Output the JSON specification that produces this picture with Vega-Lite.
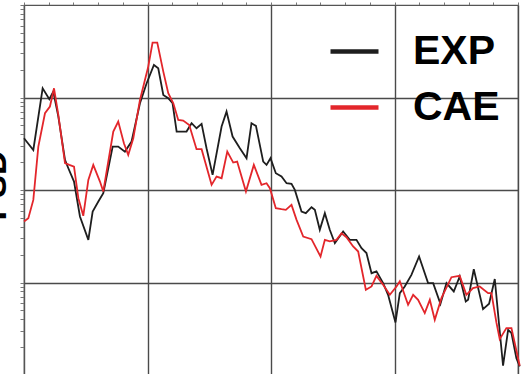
{
  "$schema": "https://vega.github.io/schema/vega-lite/v6.json",
  "width": 494,
  "height": 370,
  "autosize": {"type": "none"},
  "padding": {"left": 24, "top": 5, "right": 8, "bottom": 0},
  "background": "white",
  "config": {
    "view": {"stroke": "#555555", "strokeWidth": 1.2},
    "axis": {"labels": false, "domainColor": "#555555", "tickColor": "#777777", "gridColor": "#4a4a4a", "gridWidth": 1.4}
  },
  "data": {
    "values": [
      {"x": 0.000, "psd": 0.0363, "series": "EXP"},
      {"x": 0.0755, "psd": 0.0271, "series": "EXP"},
      {"x": 0.151, "psd": 0.1258, "series": "EXP"},
      {"x": 0.205, "psd": 0.0957, "series": "EXP"},
      {"x": 0.237, "psd": 0.1158, "series": "EXP"},
      {"x": 0.278, "psd": 0.0622, "series": "EXP"},
      {"x": 0.332, "psd": 0.02116, "series": "EXP"},
      {"x": 0.359, "psd": 0.0172, "series": "EXP"},
      {"x": 0.405, "psd": 0.01234, "series": "EXP"},
      {"x": 0.453, "psd": 0.00517, "series": "EXP"},
      {"x": 0.521, "psd": 0.00289, "series": "EXP"},
      {"x": 0.556, "psd": 0.00585, "series": "EXP"},
      {"x": 0.602, "psd": 0.0075, "series": "EXP"},
      {"x": 0.642, "psd": 0.00924, "series": "EXP"},
      {"x": 0.718, "psd": 0.0295, "series": "EXP"},
      {"x": 0.763, "psd": 0.0295, "series": "EXP"},
      {"x": 0.817, "psd": 0.026, "series": "EXP"},
      {"x": 0.871, "psd": 0.0334, "series": "EXP"},
      {"x": 0.939, "psd": 0.0866, "series": "EXP"},
      {"x": 0.993, "psd": 0.1425, "series": "EXP"},
      {"x": 1.052, "psd": 0.2248, "series": "EXP"},
      {"x": 1.087, "psd": 0.2069, "series": "EXP"},
      {"x": 1.128, "psd": 0.1066, "series": "EXP"},
      {"x": 1.168, "psd": 0.0981, "series": "EXP"},
      {"x": 1.203, "psd": 0.0866, "series": "EXP"},
      {"x": 1.236, "psd": 0.0428, "series": "EXP"},
      {"x": 1.316, "psd": 0.0428, "series": "EXP"},
      {"x": 1.357, "psd": 0.0527, "series": "EXP"},
      {"x": 1.397, "psd": 0.0465, "series": "EXP"},
      {"x": 1.438, "psd": 0.0518, "series": "EXP"},
      {"x": 1.478, "psd": 0.0283, "series": "EXP"},
      {"x": 1.527, "psd": 0.01457, "series": "EXP"},
      {"x": 1.600, "psd": 0.0485, "series": "EXP"},
      {"x": 1.640, "psd": 0.0704, "series": "EXP"},
      {"x": 1.689, "psd": 0.0378, "series": "EXP"},
      {"x": 1.748, "psd": 0.0283, "series": "EXP"},
      {"x": 1.802, "psd": 0.02206, "series": "EXP"},
      {"x": 1.842, "psd": 0.0527, "series": "EXP"},
      {"x": 1.878, "psd": 0.0493, "series": "EXP"},
      {"x": 1.937, "psd": 0.0203, "series": "EXP"},
      {"x": 1.964, "psd": 0.01868, "series": "EXP"},
      {"x": 1.996, "psd": 0.02206, "series": "EXP"},
      {"x": 2.039, "psd": 0.01519, "series": "EXP"},
      {"x": 2.085, "psd": 0.01398, "series": "EXP"},
      {"x": 2.126, "psd": 0.01184, "series": "EXP"},
      {"x": 2.166, "psd": 0.01165, "series": "EXP"},
      {"x": 2.193, "psd": 0.01003, "series": "EXP"},
      {"x": 2.247, "psd": 0.00585, "series": "EXP"},
      {"x": 2.282, "psd": 0.00562, "series": "EXP"},
      {"x": 2.328, "psd": 0.00652, "series": "EXP"},
      {"x": 2.355, "psd": 0.0061, "series": "EXP"},
      {"x": 2.395, "psd": 0.00371, "series": "EXP"},
      {"x": 2.436, "psd": 0.00562, "series": "EXP"},
      {"x": 2.476, "psd": 0.00371, "series": "EXP"},
      {"x": 2.517, "psd": 0.00266, "series": "EXP"},
      {"x": 2.584, "psd": 0.00356, "series": "EXP"},
      {"x": 2.638, "psd": 0.00289, "series": "EXP"},
      {"x": 2.692, "psd": 0.00289, "series": "EXP"},
      {"x": 2.733, "psd": 0.00235, "series": "EXP"},
      {"x": 2.773, "psd": 0.00208, "series": "EXP"},
      {"x": 2.814, "psd": 0.00126, "series": "EXP"},
      {"x": 2.854, "psd": 0.00132, "series": "EXP"},
      {"x": 2.908, "psd": 0.000985, "series": "EXP"},
      {"x": 2.948, "psd": 0.000736, "series": "EXP"},
      {"x": 3.008, "psd": 0.00037, "series": "EXP"},
      {"x": 3.043, "psd": 0.000768, "series": "EXP"},
      {"x": 3.083, "psd": 0.000906, "series": "EXP"},
      {"x": 3.137, "psd": 0.00121, "series": "EXP"},
      {"x": 3.199, "psd": 0.00191, "series": "EXP"},
      {"x": 3.272, "psd": 0.000985, "series": "EXP"},
      {"x": 3.313, "psd": 0.000985, "series": "EXP"},
      {"x": 3.372, "psd": 0.000589, "series": "EXP"},
      {"x": 3.421, "psd": 0.000985, "series": "EXP"},
      {"x": 3.480, "psd": 0.0008, "series": "EXP"},
      {"x": 3.528, "psd": 0.00116, "series": "EXP"},
      {"x": 3.577, "psd": 0.000624, "series": "EXP"},
      {"x": 3.596, "psd": 0.00065, "series": "EXP"},
      {"x": 3.642, "psd": 0.00139, "series": "EXP"},
      {"x": 3.717, "psd": 0.000516, "series": "EXP"},
      {"x": 3.766, "psd": 0.000589, "series": "EXP"},
      {"x": 3.812, "psd": 0.00109, "series": "EXP"},
      {"x": 3.847, "psd": 0.000349, "series": "EXP"},
      {"x": 3.879, "psd": 0.000126, "series": "EXP"},
      {"x": 3.920, "psd": 0.000308, "series": "EXP"},
      {"x": 3.947, "psd": 0.000284, "series": "EXP"},
      {"x": 3.987, "psd": 0.000152, "series": "EXP"},
      {"x": 4.014, "psd": 0.000124, "series": "EXP"},
      {"x": 0.000, "psd": 0.00456, "series": "CAE"},
      {"x": 0.035, "psd": 0.00496, "series": "CAE"},
      {"x": 0.0755, "psd": 0.00782, "series": "CAE"},
      {"x": 0.116, "psd": 0.0295, "series": "CAE"},
      {"x": 0.170, "psd": 0.0676, "series": "CAE"},
      {"x": 0.210, "psd": 0.0798, "series": "CAE"},
      {"x": 0.243, "psd": 0.1258, "series": "CAE"},
      {"x": 0.278, "psd": 0.0648, "series": "CAE"},
      {"x": 0.332, "psd": 0.01948, "series": "CAE"},
      {"x": 0.367, "psd": 0.01868, "series": "CAE"},
      {"x": 0.405, "psd": 0.01792, "series": "CAE"},
      {"x": 0.440, "psd": 0.00816, "series": "CAE"},
      {"x": 0.480, "psd": 0.00526, "series": "CAE"},
      {"x": 0.521, "psd": 0.01287, "series": "CAE"},
      {"x": 0.561, "psd": 0.01868, "series": "CAE"},
      {"x": 0.615, "psd": 0.01234, "series": "CAE"},
      {"x": 0.642, "psd": 0.00963, "series": "CAE"},
      {"x": 0.723, "psd": 0.0428, "series": "CAE"},
      {"x": 0.763, "psd": 0.0549, "series": "CAE"},
      {"x": 0.809, "psd": 0.032, "series": "CAE"},
      {"x": 0.844, "psd": 0.024, "series": "CAE"},
      {"x": 0.885, "psd": 0.0363, "series": "CAE"},
      {"x": 0.939, "psd": 0.0941, "series": "CAE"},
      {"x": 1.006, "psd": 0.2157, "series": "CAE"},
      {"x": 1.041, "psd": 0.392, "series": "CAE"},
      {"x": 1.079, "psd": 0.392, "series": "CAE"},
      {"x": 1.128, "psd": 0.1905, "series": "CAE"},
      {"x": 1.168, "psd": 0.1111, "series": "CAE"},
      {"x": 1.209, "psd": 0.0866, "series": "CAE"},
      {"x": 1.249, "psd": 0.0572, "series": "CAE"},
      {"x": 1.289, "psd": 0.0563, "series": "CAE"},
      {"x": 1.338, "psd": 0.0505, "series": "CAE"},
      {"x": 1.397, "psd": 0.0276, "series": "CAE"},
      {"x": 1.438, "psd": 0.0276, "series": "CAE"},
      {"x": 1.519, "psd": 0.01137, "series": "CAE"},
      {"x": 1.559, "psd": 0.01398, "series": "CAE"},
      {"x": 1.600, "psd": 0.01341, "series": "CAE"},
      {"x": 1.646, "psd": 0.026, "series": "CAE"},
      {"x": 1.694, "psd": 0.0198, "series": "CAE"},
      {"x": 1.726, "psd": 0.0203, "series": "CAE"},
      {"x": 1.797, "psd": 0.00963, "series": "CAE"},
      {"x": 1.861, "psd": 0.01868, "series": "CAE"},
      {"x": 1.923, "psd": 0.01137, "series": "CAE"},
      {"x": 1.964, "psd": 0.01184, "series": "CAE"},
      {"x": 1.991, "psd": 0.01046, "series": "CAE"},
      {"x": 2.039, "psd": 0.00636, "series": "CAE"},
      {"x": 2.085, "psd": 0.0062, "series": "CAE"},
      {"x": 2.120, "psd": 0.0061, "series": "CAE"},
      {"x": 2.166, "psd": 0.00691, "series": "CAE"},
      {"x": 2.207, "psd": 0.00476, "series": "CAE"},
      {"x": 2.261, "psd": 0.00314, "series": "CAE"},
      {"x": 2.328, "psd": 0.00294, "series": "CAE"},
      {"x": 2.401, "psd": 0.00191, "series": "CAE"},
      {"x": 2.436, "psd": 0.00289, "series": "CAE"},
      {"x": 2.476, "psd": 0.00278, "series": "CAE"},
      {"x": 2.530, "psd": 0.00289, "series": "CAE"},
      {"x": 2.571, "psd": 0.00341, "series": "CAE"},
      {"x": 2.611, "psd": 0.00309, "series": "CAE"},
      {"x": 2.665, "psd": 0.00245, "series": "CAE"},
      {"x": 2.706, "psd": 0.00216, "series": "CAE"},
      {"x": 2.768, "psd": 0.000834, "series": "CAE"},
      {"x": 2.814, "psd": 0.000906, "series": "CAE"},
      {"x": 2.854, "psd": 0.00118, "series": "CAE"},
      {"x": 2.908, "psd": 0.000945, "series": "CAE"},
      {"x": 2.962, "psd": 0.000736, "series": "CAE"},
      {"x": 3.016, "psd": 0.000906, "series": "CAE"},
      {"x": 3.043, "psd": 0.00103, "series": "CAE"},
      {"x": 3.110, "psd": 0.000574, "series": "CAE"},
      {"x": 3.151, "psd": 0.000736, "series": "CAE"},
      {"x": 3.191, "psd": 0.00065, "series": "CAE"},
      {"x": 3.245, "psd": 0.000467, "series": "CAE"},
      {"x": 3.286, "psd": 0.00065, "series": "CAE"},
      {"x": 3.326, "psd": 0.000395, "series": "CAE"},
      {"x": 3.380, "psd": 0.000678, "series": "CAE"},
      {"x": 3.461, "psd": 0.00114, "series": "CAE"},
      {"x": 3.528, "psd": 0.00118, "series": "CAE"},
      {"x": 3.582, "psd": 0.000736, "series": "CAE"},
      {"x": 3.636, "psd": 0.000869, "series": "CAE"},
      {"x": 3.690, "psd": 0.000906, "series": "CAE"},
      {"x": 3.758, "psd": 0.000768, "series": "CAE"},
      {"x": 3.785, "psd": 0.000768, "series": "CAE"},
      {"x": 3.825, "psd": 0.00037, "series": "CAE"},
      {"x": 3.852, "psd": 0.000244, "series": "CAE"},
      {"x": 3.906, "psd": 0.000321, "series": "CAE"},
      {"x": 3.947, "psd": 0.000321, "series": "CAE"},
      {"x": 4.014, "psd": 0.000126, "series": "CAE"}
    ]
  },
  "mark": {"type": "line", "strokeWidth": 1.8, "clip": false},
  "encoding": {
    "x": {
      "field": "x",
      "type": "quantitative",
      "scale": {"domain": [0, 4], "nice": false, "zero": false},
      "axis": {
        "orient": "top",
        "title": null,
        "values": [0, 0.2, 0.4, 0.6, 0.8, 1, 1.2, 1.4, 1.6, 1.8, 2, 2.2, 2.4, 2.6, 2.8, 3, 3.2, 3.4, 3.6, 3.8, 4],
        "tickSize": 3,
        "grid": true,
        "gridOpacity": {"condition": {"test": "datum.value % 1 === 0", "value": 1}, "value": 0}
      }
    },
    "y": {
      "field": "psd",
      "type": "quantitative",
      "scale": {"type": "log", "domain": [0.0001, 1], "nice": false},
      "axis": {
        "orient": "left",
        "title": "PSD",
        "titleFont": "Liberation Sans",
        "titleFontWeight": "bold",
        "titleFontSize": 34,
        "titleColor": "black",
        "titleX": -19,
        "titleY": 180,
        "titleAngle": 270,
        "titleAlign": "center",
        "titleBaseline": "alphabetic",
        "values": [0.0001, 0.0002, 0.0003, 0.0004, 0.0005, 0.0006, 0.0007, 0.0008, 0.0009, 0.001, 0.002, 0.003, 0.004, 0.005, 0.006, 0.007, 0.008, 0.009, 0.01, 0.02, 0.03, 0.04, 0.05, 0.06, 0.07, 0.08, 0.09, 0.1, 0.2, 0.3, 0.4, 0.5, 0.6, 0.7, 0.8, 0.9, 1],
        "tickSize": 4,
        "grid": true,
        "gridOpacity": {"condition": {"test": "datum.value === 0.1 || datum.value === 0.01 || datum.value === 0.001", "value": 1}, "value": 0}
      }
    },
    "color": {
      "field": "series",
      "type": "nominal",
      "scale": {"domain": ["EXP", "CAE"], "range": ["#1e1e1e", "#e3262b"]},
      "legend": {
        "title": null,
        "orient": "none",
        "legendX": 304,
        "legendY": 20,
        "padding": 0,
        "symbolType": "stroke",
        "symbolSize": 2304,
        "symbolStrokeWidth": 4.5,
        "labelFont": "Liberation Sans",
        "labelFontWeight": "bold",
        "labelFontSize": 41,
        "labelColor": "black",
        "labelOffset": 32,
        "rowPadding": 9
      }
    }
  }
}
